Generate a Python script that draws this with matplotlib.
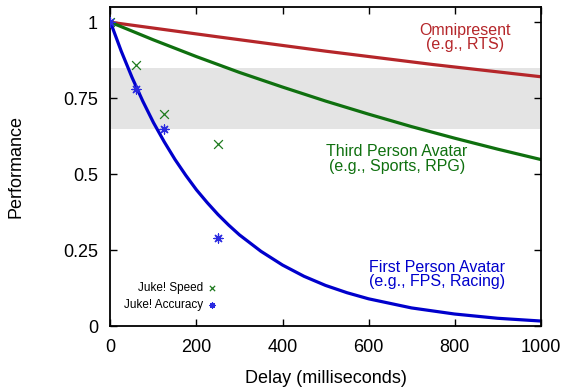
import matplotlib
matplotlib.use("Agg")
import matplotlib.pyplot as plt

plt.rcParams['font.family'] = ['Liberation Sans', 'DejaVu Sans']

# Curves
omni_x = [0, 250, 500, 750, 1000]
omni_y = [1.0, 0.952, 0.905, 0.861, 0.821]

third_x = [0, 100, 200, 300, 400, 500, 600, 700, 800, 900, 1000]
third_y = [1.0, 0.942, 0.887, 0.835, 0.787, 0.741, 0.698, 0.657, 0.619, 0.583, 0.549]

first_x = [0, 25, 50, 75, 100, 125, 150, 175, 200, 225, 250, 275, 300, 350, 400,
           450, 500, 550, 600, 700, 800, 900, 1000]
first_y = [1.0, 0.905, 0.819, 0.741, 0.670, 0.607, 0.549, 0.497, 0.449, 0.407,
           0.368, 0.333, 0.301, 0.247, 0.202, 0.165, 0.135, 0.111, 0.091, 0.061,
           0.041, 0.027, 0.018]

# Juke! measurements
juke_x = [0, 60, 125, 250]
speed_y = [1.0, 0.86, 0.70, 0.60]
accuracy_y = [1.0, 0.78, 0.65, 0.29]

band = (0.65, 0.85)

xticks = [0, 200, 400, 600, 800, 1000]
yticks = [0, 0.25, 0.5, 0.75, 1]
ytick_labels = ["0", "0.25", "0.5", "0.75", "1"]

red = "#b5262a"
green = "#0f700f"
blue = "#0000cc"

fig = plt.figure(figsize=(5.66, 3.91), dpi=100)
ax = fig.add_axes([0.1952, 0.165, 0.955 - 0.1952, 0.982 - 0.165])

ax.axhspan(band[0], band[1], color="#e4e4e4", lw=0, zorder=0)

ax.plot(omni_x, omni_y, color=red, lw=2.3, zorder=2)
ax.plot(third_x, third_y, color=green, lw=2.3, zorder=2)
ax.plot(first_x, first_y, color=blue, lw=2.3, zorder=2)

sp = ax.scatter(juke_x, speed_y, marker="x", s=40, color="#1e7a1e", linewidths=0.9,
                zorder=3, label="Juke! Speed")
ac = ax.scatter(juke_x, accuracy_y, marker=(8, 2, 0), s=42, color="#2a2ae0",
                linewidths=0.9, zorder=3, label="Juke! Accuracy")

ax.set_xlim(0, 1000)
ax.set_ylim(0, 1.05)
ax.set_xticks(xticks)
ax.set_yticks(yticks)
ax.set_yticklabels(ytick_labels)
ax.tick_params(direction="in", top=True, right=True, labelsize=13, length=5,
               width=1)
ax.tick_params(axis="x", pad=9)
ax.tick_params(axis="y", pad=9)
for s in ax.spines.values():
    s.set_linewidth(1.3)

ax.set_xlabel("Delay (milliseconds)", fontsize=13)
ax.set_ylabel("Performance", fontsize=13)
ax.xaxis.set_label_coords(0.5, -0.136)
ax.yaxis.set_label_coords(-0.199, 0.5)

ax.text(824, 0.949, "Omnipresent\n(e.g., RTS)", color=red, fontsize=11.5,
        ha="center", va="center", linespacing=0.95)
ax.text(666, 0.55, "Third Person Avatar\n(e.g., Sports, RPG)", color=green,
        fontsize=11.5, ha="center", va="center", linespacing=0.95)
ax.text(759, 0.171, "First Person Avatar\n(e.g., FPS, Racing)", color=blue,
        fontsize=11.5, ha="center", va="center", linespacing=0.95)

leg = ax.legend(handles=[sp, ac], loc="lower left", bbox_to_anchor=(0.012, 0.022),
                frameon=False, markerfirst=False, fontsize=8.5, handlelength=0.6,
                handletextpad=0.5, labelspacing=0.45, borderaxespad=0.3,
                scatterpoints=1, markerscale=0.6)
for t in leg.get_texts():
    t.set_ha("right")
leg._legend_box.align = "right"

fig.savefig("out.png", dpi=100)
